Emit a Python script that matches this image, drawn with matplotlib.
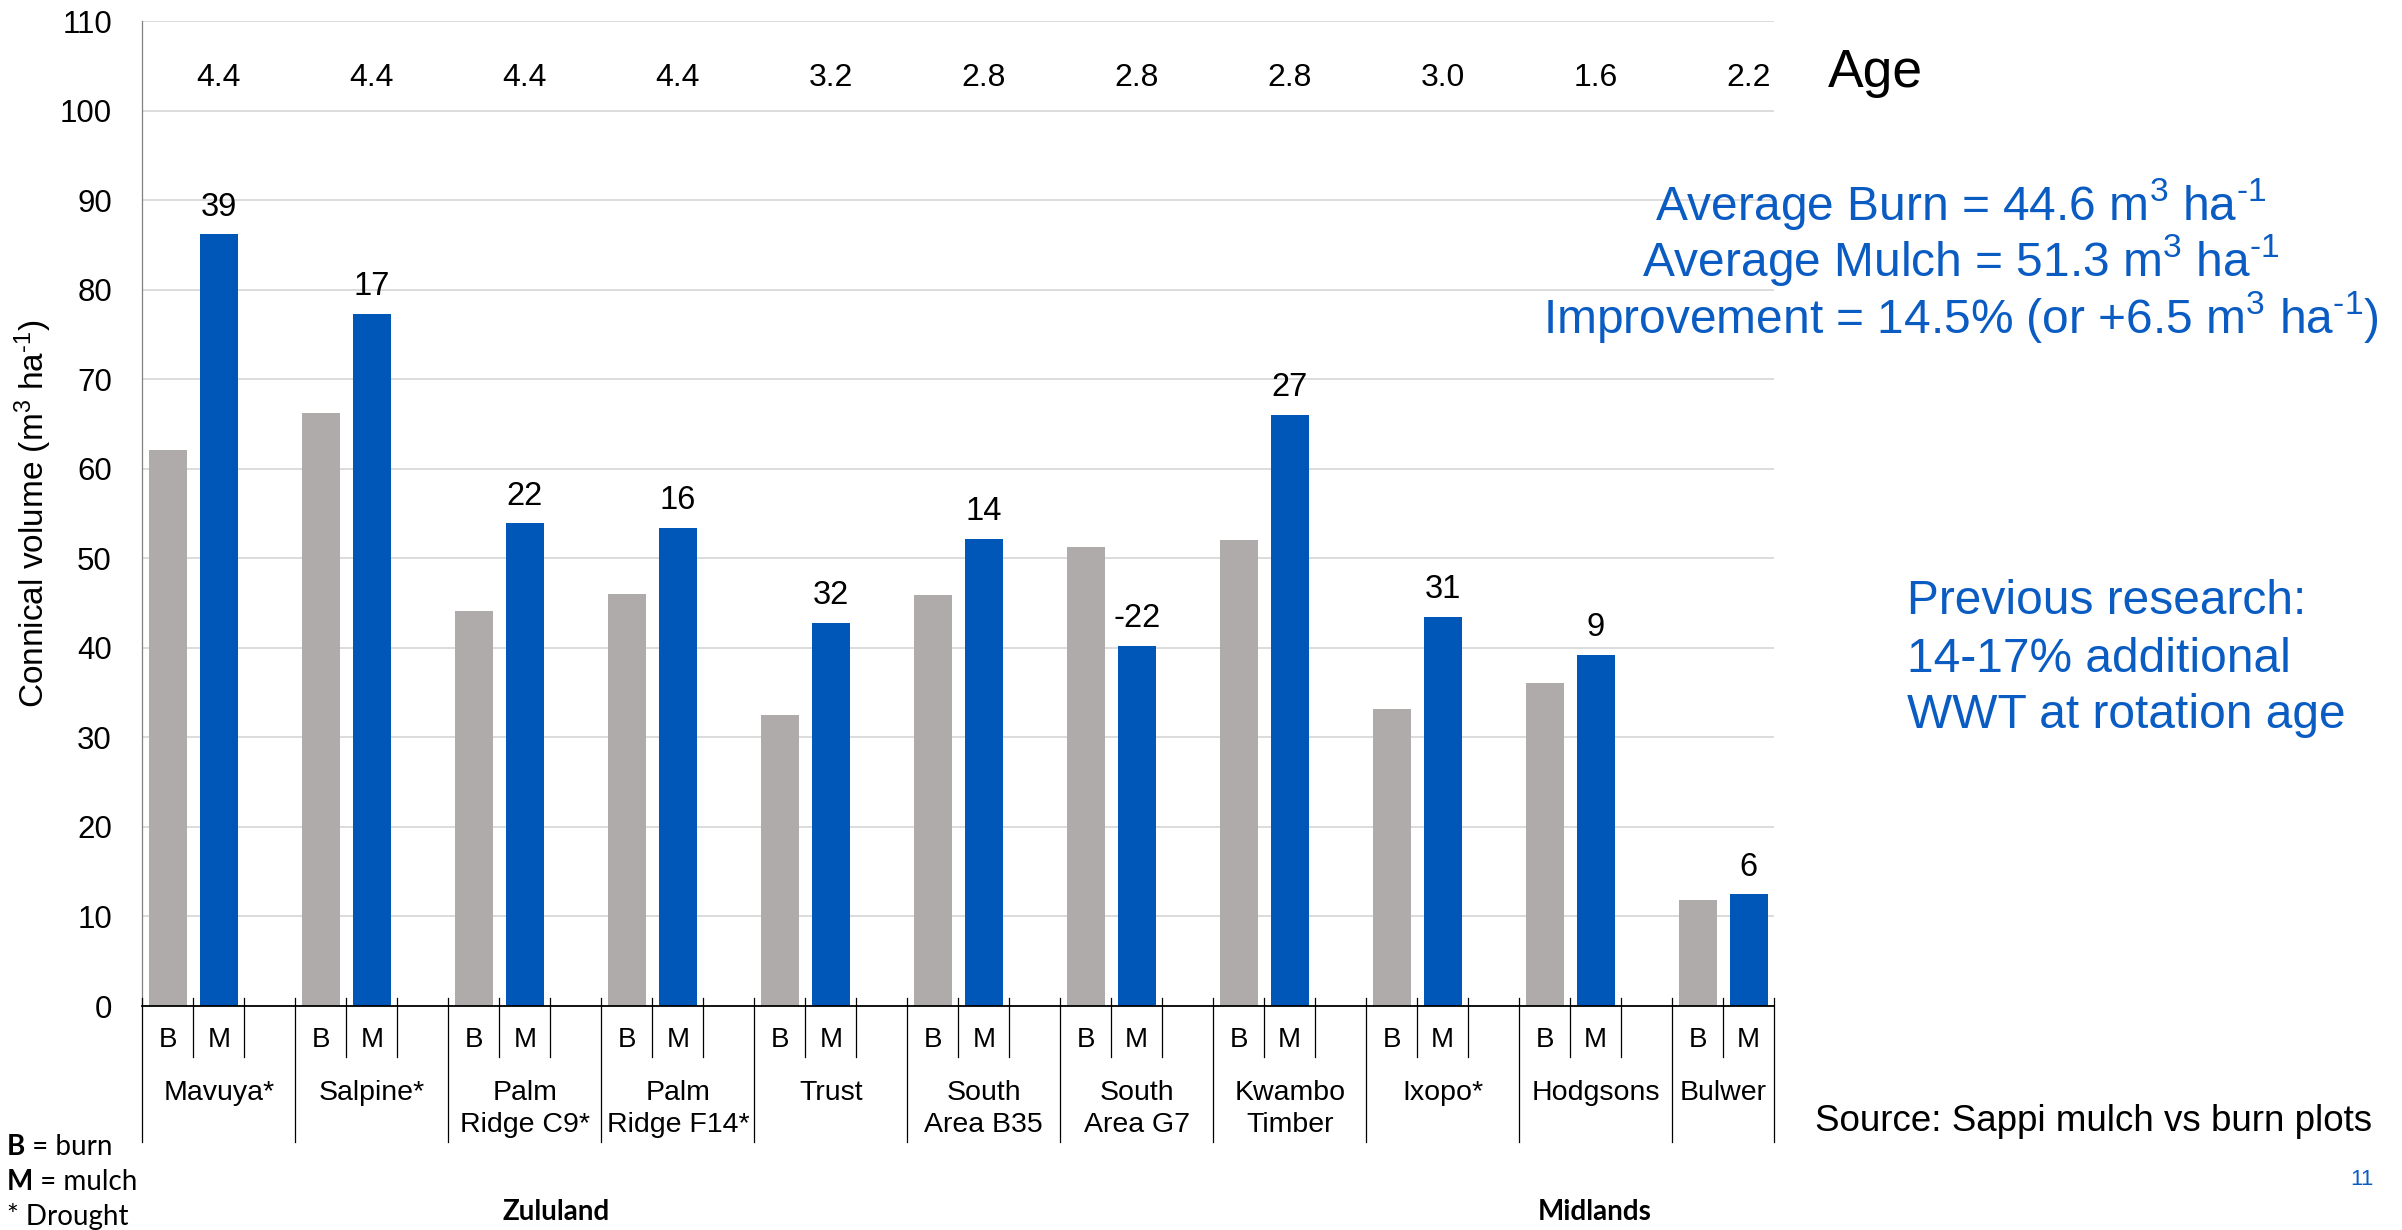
import matplotlib
matplotlib.use("Agg")
import matplotlib.pyplot as plt
import numpy as np
from matplotlib.transforms import blended_transform_factory

# ---- data -------------------------------------------------------------
sites = ["Mavuya*", "Salpine*", "Palm\nRidge C9*", "Palm\nRidge F14*", "Trust",
         "South\nArea B35", "South\nArea G7", "Kwambo\nTimber", "Ixopo*",
         "Hodgsons", "Bulwer"]
burn = [62.1, 66.2, 44.1, 46.0, 32.5, 45.9, 51.3, 52.0, 33.2, 36.1, 11.8]
mulch = [86.2, 77.3, 53.9, 53.4, 42.8, 52.2, 40.2, 66.0, 43.5, 39.2, 12.5]
age = [4.4, 4.4, 4.4, 4.4, 3.2, 2.8, 2.8, 2.8, 3.0, 1.6, 2.2]
treat_labels = ["B", "M"]
regions = ["Zululand", "Midlands"]
y_ticks = list(range(0, 111, 10))

GRAY = "#AFABAB"
BLUE = "#0057B8"
TEXT_BLUE = "#0A5CC2"

plt.rcParams["font.family"] = ["Liberation Sans", "DejaVu Sans"]
plt.rcParams["mathtext.fontset"] = "custom"
plt.rcParams["mathtext.rm"] = "Liberation Sans"
plt.rcParams["mathtext.it"] = "Liberation Sans:italic"
plt.rcParams["mathtext.bf"] = "Liberation Sans:bold"

UNIT = r"m$^{3}$ ha$^{\text{-1}}$"

fig = plt.figure(figsize=(24.02, 12.30), dpi=100)
ax = fig.add_axes([0.0593, 0.1821, 0.6793, 0.8008])

n = len(sites)
xb = np.arange(n) * 3          # burn slot
xm = xb + 1                    # mulch slot

ax.bar(xb, burn, width=0.75, color=GRAY, zorder=2)
ax.bar(xm, mulch, width=0.75, color=BLUE, zorder=2)

ax.set_xlim(-0.5, 3 * n - 1.5)
ax.set_ylim(0, 110)
ax.set_yticks(y_ticks)
ax.set_xticks([])
ax.yaxis.grid(True, color="#D9D9D9", lw=1.3)
ax.set_axisbelow(True)
for s in ("top", "right"):
    ax.spines[s].set_visible(False)
ax.spines["left"].set_color("#808080")
ax.spines["left"].set_linewidth(0.9)
ax.spines["bottom"].set_color("black")
ax.spines["bottom"].set_linewidth(1.3)
ax.spines["bottom"].set_zorder(3)
ax.tick_params(axis="y", length=0, pad=22, labelsize=22.5)

# percentage change labels above the mulch bars
for x, b, m in zip(xm, burn, mulch):
    pct = int(round(100 * (m - b) / b))
    ax.annotate(f"{pct}", xy=(x, m), xytext=(0, 19.5), textcoords="offset points",
                ha="center", va="center", fontsize=23.5)

# stand age row
for x, a in zip(xm, age):
    ax.text(x, 103.6, f"{a:.1f}", ha="center", va="center", fontsize=23)

# two-level category axis drawn below the plot
trans = blended_transform_factory(ax.transData, ax.transAxes)
top_y, short_y, long_y = 0.0081, -0.0515, -0.1378
for g in range(n):
    start = 3 * g - 0.5
    last = g == n - 1
    ax.plot([start, start], [top_y, long_y], transform=trans, color="black",
            lw=0.9, clip_on=False, zorder=4)
    for k in (1, 2):
        bx = start + k
        if last and k == 2:
            continue
        ax.plot([bx, bx], [top_y, short_y], transform=trans, color="black",
                lw=0.9, clip_on=False, zorder=4)
    ax.text(xb[g], -0.0345, treat_labels[0], transform=trans, ha="center",
            va="center", fontsize=20)
    ax.text(xm[g], -0.0345, treat_labels[1], transform=trans, ha="center",
            va="center", fontsize=20)
    # group name centred on the span of its slots
    cx = (xb[g] + xm[g]) / 2 if last else xm[g]
    for i, line in enumerate(sites[g].split("\n")):
        ax.text(cx, -0.0886 - 0.0325 * i, line, transform=trans,
                ha="center", va="center", fontsize=20.5)
end = 3 * n - 1.5
ax.plot([end, end], [top_y, long_y], transform=trans, color="black",
        lw=0.9, clip_on=False, zorder=4)

# axis title
fig.text(0.0140, 0.5826, "Connical volume (" + UNIT + ")", rotation=90,
         ha="center", va="center", fontsize=24)

# header for the age row
fig.text(0.761, 0.9405, "Age", ha="left", va="center", fontsize=38.5)

# summary statistics
summary = ["Average Burn = 44.6 " + UNIT,
           "Average Mulch = 51.3 " + UNIT,
           "Improvement = 14.5% (or +6.5 " + UNIT + ")"]
for txt, yy in zip(summary, [0.8343, 0.7883, 0.7422]):
    fig.text(0.8164, yy, txt, ha="center", va="center", fontsize=34.5,
             color=TEXT_BLUE)

previous = ["Previous research:", "14-17% additional", "WWT at rotation age"]
for txt, yy in zip(previous, [0.5106, 0.4642, 0.4184]):
    fig.text(0.794, yy, txt, ha="left", va="center", fontsize=34.5,
             color=TEXT_BLUE)

fig.text(0.9874, 0.0884, "Source: Sappi mulch vs burn plots", ha="right",
         va="center", fontsize=26.5)
fig.text(0.988, 0.0407, "11", ha="right", va="center", fontsize=16,
         color=TEXT_BLUE)

# key in the lower-left corner
key = [("B", " = burn", 0.0677), ("M", " = mulch", 0.0393), ("", "* Drought", 0.0108)]
for bold, rest, yy in key:
    if bold:
        t = fig.text(0.003, yy, bold, ha="left", va="center", fontsize=20,
                     family="Lato", weight="bold")
        fig.canvas.draw()
        bb = t.get_window_extent()
        xr = bb.x1 / fig.bbox.width
        fig.text(xr, yy, rest, ha="left", va="center", fontsize=20, family="Lato")
    else:
        fig.text(0.003, yy, rest, ha="left", va="center", fontsize=20, family="Lato")

for name, xx in zip(regions, [0.2315, 0.664]):
    fig.text(xx, 0.0149, name, ha="center", va="center", fontsize=20,
             family="Lato", weight="bold")

fig.savefig("out.png", dpi=100)
